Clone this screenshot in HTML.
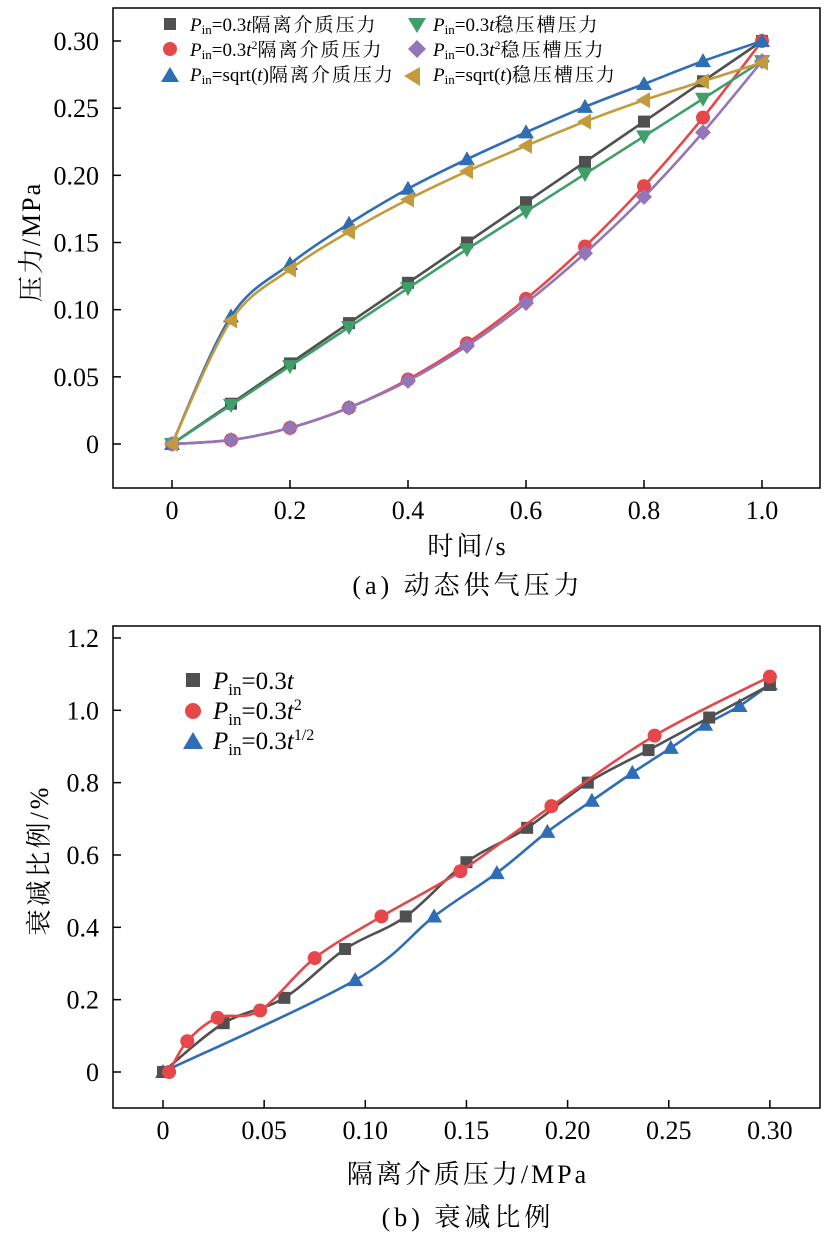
<!DOCTYPE html>
<html><head><meta charset="utf-8">
<style>
html,body{margin:0;padding:0;background:#fff;}
svg{display:block;font-family:"Liberation Serif","Noto Serif CJK SC",serif;}
</style></head>
<body>
<svg id="svg" width="834" height="1244" viewBox="0 0 834 1244" xmlns="http://www.w3.org/2000/svg"></svg>
<script>
// ---- Chart (a) data ----
const aX = [0,0.1,0.2,0.3,0.4,0.5,0.6,0.7,0.8,0.9,1.0];
const aSq = [0,0.03,0.06,0.09,0.12,0.15,0.18,0.21,0.24,0.27,0.30];
const aCi = [0,0.003,0.012,0.027,0.048,0.075,0.108,0.147,0.192,0.243,0.30];
const aTu = [0,0.095,0.134,0.164,0.19,0.212,0.232,0.251,0.268,0.285,0.30];
const aTd = [0,0.029,0.058,0.087,0.116,0.145,0.173,0.201,0.229,0.257,0.285];
const aDi = [0,0.003,0.012,0.027,0.047,0.073,0.105,0.142,0.184,0.232,0.285];
const aTl = [0,0.092,0.13,0.158,0.182,0.203,0.222,0.24,0.256,0.27,0.284];
const aXTicks = [0,0.2,0.4,0.6,0.8,1.0];
const aXTickLabels = ["0","0.2","0.4","0.6","0.8","1.0"];
const aYTicks = [0,0.05,0.10,0.15,0.20,0.25,0.30];
const aYTickLabels = ["0","0.05","0.10","0.15","0.20","0.25","0.30"];
// ---- Chart (b) data ----
const bSqX = [0,0.03,0.06,0.09,0.12,0.15,0.18,0.21,0.24,0.27,0.30];
const bSqY = [0,0.135,0.205,0.34,0.43,0.58,0.675,0.80,0.89,0.98,1.07];
const bCiX = [0.003,0.012,0.027,0.048,0.075,0.108,0.147,0.192,0.243,0.30];
const bCiY = [0,0.085,0.15,0.17,0.315,0.43,0.555,0.735,0.93,1.093];
const bTuX = [0,0.095,0.134,0.165,0.19,0.212,0.232,0.251,0.268,0.285,0.30];
const bTuY = [0,0.254,0.43,0.55,0.664,0.75,0.827,0.896,0.96,1.012,1.072];
const bXTicks = [0,0.05,0.10,0.15,0.20,0.25,0.30];
const bXTickLabels = ["0","0.05","0.10","0.15","0.20","0.25","0.30"];
const bYTicks = [0,0.2,0.4,0.6,0.8,1.0,1.2];
const bYTickLabels = ["0","0.2","0.4","0.6","0.8","1.0","1.2"];

const NS="http://www.w3.org/2000/svg";
const svg=document.getElementById('svg');
function el(tag,attrs,parent){const e=document.createElementNS(NS,tag);for(const k in attrs)e.setAttribute(k,attrs[k]);(parent||svg).appendChild(e);return e;}

const COL={sq:"#505050",ci:"#e5474b",tu:"#2f6db5",td:"#3f9e6a",di:"#9376b8",tl:"#c39a3c"};

function smooth(pts){
  let d="M"+pts[0][0]+","+pts[0][1];
  for(let i=0;i<pts.length-1;i++){
    const p0=pts[i-1]||pts[i],p1=pts[i],p2=pts[i+1],p3=pts[i+2]||p2;
    const c1=[p1[0]+(p2[0]-p0[0])/6,p1[1]+(p2[1]-p0[1])/6];
    const c2=[p2[0]-(p3[0]-p1[0])/6,p2[1]-(p3[1]-p1[1])/6];
    d+=" C"+c1[0]+","+c1[1]+" "+c2[0]+","+c2[1]+" "+p2[0]+","+p2[1];
  }
  return d;
}
function marker(g,type,x,y,c,s){
  let e;
  if(type==='sq') e=el('rect',{x:x-s,y:y-s,width:2*s,height:2*s,fill:c},g);
  else if(type==='ci') e=el('circle',{cx:x,cy:y,r:s+1,fill:c},g);
  else if(type==='tu') e=el('polygon',{points:`${x},${y-s-2} ${x-s-2},${y+s} ${x+s+2},${y+s}`,fill:c},g);
  else if(type==='td') e=el('polygon',{points:`${x},${y+s+2} ${x-s-2},${y-s} ${x+s+2},${y-s}`,fill:c},g);
  else if(type==='di') e=el('polygon',{points:`${x},${y-s-2} ${x+s+2},${y} ${x},${y+s+2} ${x-s-2},${y}`,fill:c},g);
  else if(type==='tl') e=el('polygon',{points:`${x-s-2},${y} ${x+s},${y-s-2} ${x+s},${y+s+2}`,fill:c},g);
  return e;
}
function series(name,xs,ys,sx,sy,type,c,s){
  const g=el('g',{});
  
  
  const pts=xs.map((v,i)=>[sx(v),sy(ys[i])]);
  el('path',{d:smooth(pts),fill:'none',stroke:c,'stroke-width':2.6},g);
  pts.forEach(p=>{const m=marker(g,type,p[0],p[1],c,s);
    
    });
}
function axes(name,box,xt,xl,yt,yl,sx,sy){
  const g=el('g',{});
  
  
  el('rect',{x:box.x0,y:box.y0,width:box.x1-box.x0,height:box.y1-box.y0,fill:'none',stroke:'#000','stroke-width':1.5},g);
  xt.forEach((v,i)=>{const x=sx(v);
    el('line',{x1:x,x2:x,y1:box.y1,y2:box.y1-8,stroke:'#000','stroke-width':1.5},g);
    const t=el('text',{x:x,y:box.y1+31,'text-anchor':'middle','font-size':26},g);t.textContent=xl[i];
    });
  yt.forEach((v,i)=>{const y=sy(v);
    el('line',{x1:box.x0,x2:box.x0+8,y1:y,y2:y,stroke:'#000','stroke-width':1.5},g);
    const t=el('text',{x:box.x0-14,y:y+9,'text-anchor':'end','font-size':26},g);t.textContent=yl[i];
    });
}

// Chart (a)
const ax=v=>172+v*590, ay=v=>444-v*403/0.3;
axes('chart-a-axes',{x0:113,y0:8,x1:820,y1:488},aXTicks,aXTickLabels,aYTicks,aYTickLabels,ax,ay);
series('series-a-t-medium',aX,aSq,ax,ay,'sq',COL.sq,6);
series('series-a-t2-medium',aX,aCi,ax,ay,'ci',COL.ci,6);
series('series-a-sqrt-medium',aX,aTu,ax,ay,'tu',COL.tu,6);
series('series-a-t-storage',aX,aTd,ax,ay,'td',COL.td,6);
series('series-a-t2-storage',aX,aDi,ax,ay,'di',COL.di,6);
series('series-a-sqrt-storage',aX,aTl,ax,ay,'tl',COL.tl,6);

// Chart (b)
const bx=v=>163+v*2023, by=v=>1072-v*361.7;
axes('chart-b-axes',{x0:113,y0:626,x1:820,y1:1108},bXTicks,bXTickLabels,bYTicks,bYTickLabels,bx,by);
series('series-b-t-sqrt',bTuX,bTuY,bx,by,'tu',COL.tu,6);
series('series-b-t',bSqX,bSqY,bx,by,'sq',COL.sq,6);
series('series-b-t2',bCiX,bCiY,bx,by,'ci',COL.ci,6);
</script>
<svg width="834" height="1244" style="position:absolute;left:0;top:0" xmlns="http://www.w3.org/2000/svg">
<g font-family="Liberation Serif, Noto Serif CJK SC, serif" fill="#000">
  <g font-size="19">
    <rect x="164" y="18" width="12" height="12" fill="#505050"/>
    <text x="190" y="31"><tspan font-style="italic">P</tspan><tspan font-size="13" dy="3">in</tspan><tspan dy="-3">=0.3</tspan><tspan font-style="italic">t</tspan><tspan letter-spacing="2">隔离介质压力</tspan></text>
    <circle cx="170" cy="49" r="7" fill="#e5474b"/>
    <text x="190" y="56"><tspan font-style="italic">P</tspan><tspan font-size="13" dy="3">in</tspan><tspan dy="-3">=0.3</tspan><tspan font-style="italic">t</tspan><tspan font-size="12" dy="-7">2</tspan><tspan dy="7" letter-spacing="2">隔离介质压力</tspan></text>
    <polygon points="170,67 161,82 179,82" fill="#2f6db5"/>
    <text x="190" y="81"><tspan font-style="italic">P</tspan><tspan font-size="13" dy="3">in</tspan><tspan dy="-3">=sqrt(</tspan><tspan font-style="italic">t</tspan>)<tspan letter-spacing="2">隔离介质压力</tspan></text>
    <polygon points="417,33 408,18 426,18" fill="#3f9e6a"/>
    <text x="433" y="31"><tspan font-style="italic">P</tspan><tspan font-size="13" dy="3">in</tspan><tspan dy="-3">=0.3</tspan><tspan font-style="italic">t</tspan><tspan letter-spacing="2">稳压槽压力</tspan></text>
    <polygon points="417,40 426,49 417,58 408,49" fill="#9376b8"/>
    <text x="433" y="56"><tspan font-style="italic">P</tspan><tspan font-size="13" dy="3">in</tspan><tspan dy="-3">=0.3</tspan><tspan font-style="italic">t</tspan><tspan font-size="12" dy="-7">2</tspan><tspan dy="7" letter-spacing="2">稳压槽压力</tspan></text>
    <polygon points="404,76 420,67 420,86" fill="#c39a3c"/>
    <text x="433" y="81"><tspan font-style="italic">P</tspan><tspan font-size="13" dy="3">in</tspan><tspan dy="-3">=sqrt(</tspan><tspan font-style="italic">t</tspan>)<tspan letter-spacing="2">稳压槽压力</tspan></text>
  </g>
  <text x="468" y="555" text-anchor="middle" font-size="26" letter-spacing="3">时间/s</text>
  <text x="468" y="594" text-anchor="middle" font-size="26" letter-spacing="4">(a) 动态供气压力</text>
  <text transform="translate(40,242) rotate(-90)" text-anchor="middle" font-size="26" letter-spacing="2">压力/MPa</text>

  <g font-size="25">
    <rect x="186" y="673" width="14" height="14" fill="#505050"/>
    <text x="213" y="689"><tspan font-style="italic">P</tspan><tspan font-size="17" dy="6">in</tspan><tspan dy="-6">=0.3</tspan><tspan font-style="italic">t</tspan></text>
    <circle cx="193" cy="711" r="8" fill="#e5474b"/>
    <text x="213" y="719"><tspan font-style="italic">P</tspan><tspan font-size="17" dy="6">in</tspan><tspan dy="-6">=0.3</tspan><tspan font-style="italic">t</tspan><tspan font-size="16" dy="-9">2</tspan></text>
    <polygon points="193,732 183,749 203,749" fill="#2f6db5"/>
    <text x="213" y="749"><tspan font-style="italic">P</tspan><tspan font-size="17" dy="6">in</tspan><tspan dy="-6">=0.3</tspan><tspan font-style="italic">t</tspan><tspan font-size="16" dy="-9">1/2</tspan></text>
  </g>
  <text x="468" y="1183" text-anchor="middle" font-size="26" letter-spacing="3">隔离介质压力/MPa</text>
  <text x="468" y="1226" text-anchor="middle" font-size="26" letter-spacing="4">(b) 衰减比例</text>
  <text transform="translate(48,860) rotate(-90)" text-anchor="middle" font-size="26" letter-spacing="3">衰减比例/%</text>
</g>
</svg>
</body></html>
